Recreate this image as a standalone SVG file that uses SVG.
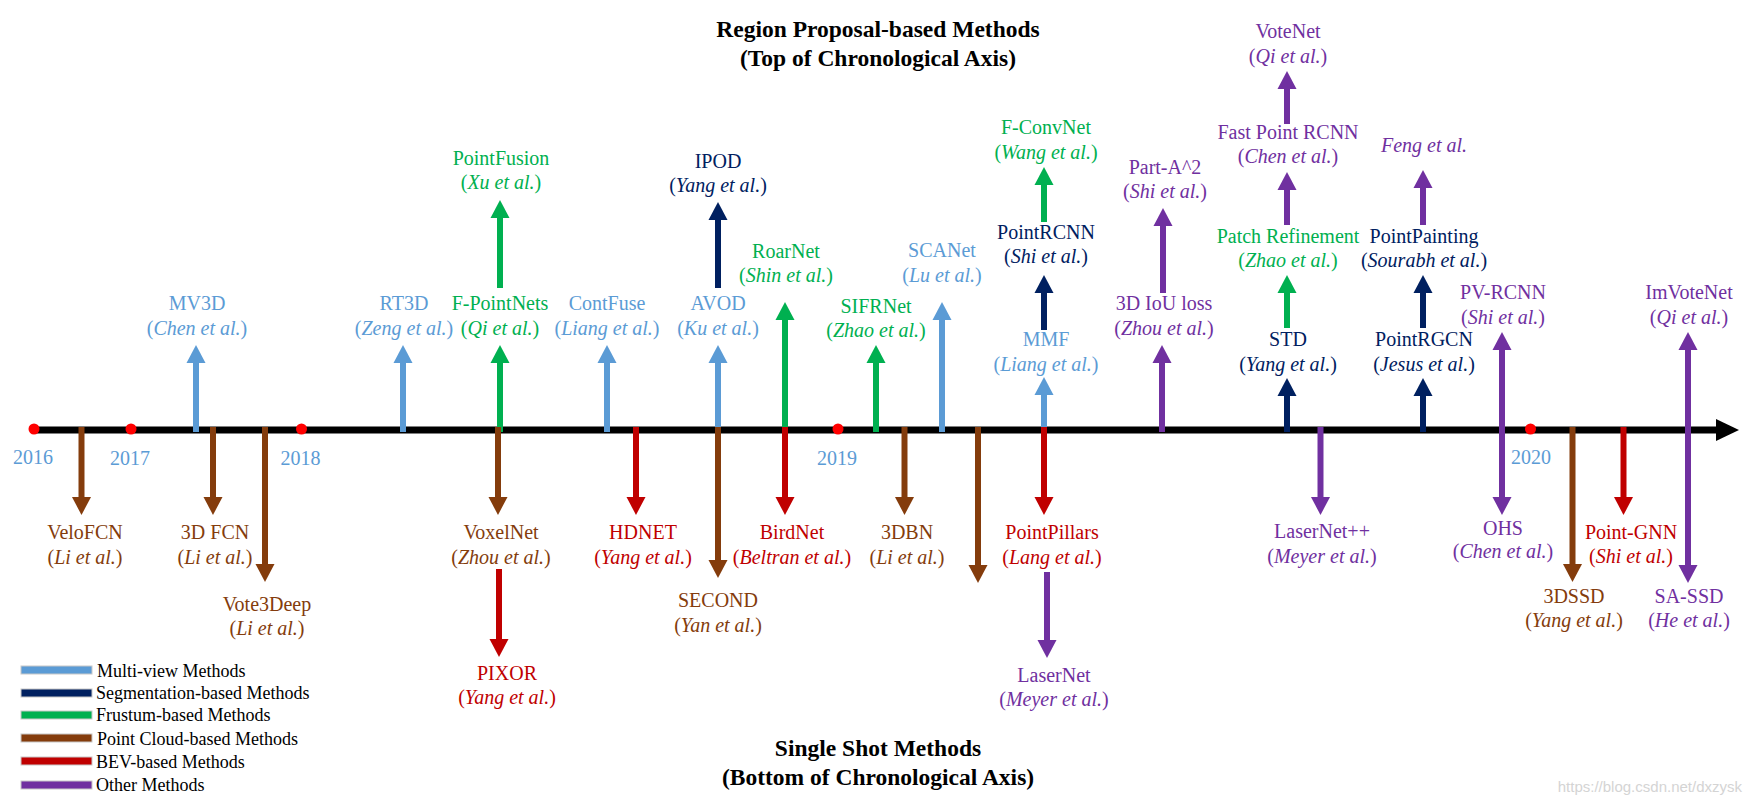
<svg xmlns="http://www.w3.org/2000/svg" width="1753" height="804" viewBox="0 0 1753 804">
<style>
text { font-family: "Liberation Serif", "Times New Roman", serif; }
.lbl { font-size: 20px; text-anchor: middle; }
.yr { font-size: 20px; text-anchor: middle; fill: #5B9BD5; }
.ttl { font-size: 23.5px; font-weight: bold; text-anchor: middle; fill: #000; }
.leg { font-size: 18px; fill: #000; }
.i { font-style: italic; }
.cb { fill: #5B9BD5; } .cn { fill: #002060; } .cg { fill: #00B050; }
.cbr { fill: #843C0C; } .cr { fill: #C00000; } .cp { fill: #7030A0; }
.a { stroke-width: 6; fill: none; }
.sb { stroke: #5B9BD5; } .sn { stroke: #002060; } .sg { stroke: #00B050; }
.sbr { stroke: #843C0C; } .sr { stroke: #C00000; } .sp { stroke: #7030A0; }
.ab { marker-end: url(#hb); } .an { marker-end: url(#hn); } .ag { marker-end: url(#hg); }
.abr { marker-end: url(#hbr); } .ar { marker-end: url(#hr); } .ap { marker-end: url(#hp); }
.dot { fill: #FF0000; }
.lg { stroke: #c8c8c8; stroke-width: 1; }
</style>
<defs>
<marker id="hb" markerUnits="userSpaceOnUse" markerWidth="18" markerHeight="19" refX="0" refY="9.5" orient="auto" overflow="visible"><path d="M0,0 L18,9.5 L0,19 Z" fill="#5B9BD5"/></marker>
<marker id="hn" markerUnits="userSpaceOnUse" markerWidth="18" markerHeight="19" refX="0" refY="9.5" orient="auto" overflow="visible"><path d="M0,0 L18,9.5 L0,19 Z" fill="#002060"/></marker>
<marker id="hg" markerUnits="userSpaceOnUse" markerWidth="18" markerHeight="19" refX="0" refY="9.5" orient="auto" overflow="visible"><path d="M0,0 L18,9.5 L0,19 Z" fill="#00B050"/></marker>
<marker id="hbr" markerUnits="userSpaceOnUse" markerWidth="18" markerHeight="19" refX="0" refY="9.5" orient="auto" overflow="visible"><path d="M0,0 L18,9.5 L0,19 Z" fill="#843C0C"/></marker>
<marker id="hr" markerUnits="userSpaceOnUse" markerWidth="18" markerHeight="19" refX="0" refY="9.5" orient="auto" overflow="visible"><path d="M0,0 L18,9.5 L0,19 Z" fill="#C00000"/></marker>
<marker id="hp" markerUnits="userSpaceOnUse" markerWidth="18" markerHeight="19" refX="0" refY="9.5" orient="auto" overflow="visible"><path d="M0,0 L18,9.5 L0,19 Z" fill="#7030A0"/></marker>
<marker id="hp2" markerUnits="userSpaceOnUse" markerWidth="18" markerHeight="19" refX="0" refY="9.5" orient="auto-start-reverse" overflow="visible"><path d="M0,0 L18,9.5 L0,19 Z" fill="#7030A0"/></marker>
<marker id="hk" markerUnits="userSpaceOnUse" markerWidth="23" markerHeight="22" refX="0" refY="11" orient="auto" overflow="visible"><path d="M0,0 L23,11 L0,22 Z" fill="#000"/></marker>
</defs>
<rect width="1753" height="804" fill="#fff"/>

<g id="titles">
<text class="ttl" x="878" y="37">Region Proposal-based Methods</text>
<text class="ttl" x="878" y="66">(Top of Chronological Axis)</text>
<text class="ttl" x="878" y="756">Single Shot Methods</text>
<text class="ttl" x="878" y="785">(Bottom of Chronological Axis)</text>
</g>

<g id="axis">
<line x1="34" y1="430" x2="1716" y2="430" stroke="#000" stroke-width="7" marker-end="url(#hk)"/>
</g>

<g id="connectors">
<!-- up arrows -->
<line class="a sb ab" x1="196" y1="432" x2="196" y2="363"/>
<line class="a sb ab" x1="403" y1="432" x2="403" y2="363"/>
<line class="a sg ag" x1="500" y1="432" x2="500" y2="363"/>
<line class="a sg ag" x1="500" y1="288" x2="500" y2="218"/>
<line class="a sb ab" x1="607" y1="432" x2="607" y2="363"/>
<line class="a sb ab" x1="718" y1="432" x2="718" y2="363"/>
<line class="a sn an" x1="718" y1="288" x2="718" y2="220"/>
<line class="a sg ag" x1="785" y1="432" x2="785" y2="320"/>
<line class="a sg ag" x1="876" y1="432" x2="876" y2="363"/>
<line class="a sb ab" x1="942" y1="432" x2="942" y2="320"/>
<line class="a sb ab" x1="1044" y1="432" x2="1044" y2="395"/>
<line class="a sn an" x1="1044" y1="330" x2="1044" y2="293"/>
<line class="a sg ag" x1="1044" y1="222" x2="1044" y2="185"/>
<line class="a sp ap" x1="1162" y1="432" x2="1162" y2="363"/>
<line class="a sp ap" x1="1163" y1="293" x2="1163" y2="226"/>
<line class="a sn an" x1="1287" y1="432" x2="1287" y2="396"/>
<line class="a sg ag" x1="1287" y1="328" x2="1287" y2="293"/>
<line class="a sp ap" x1="1287" y1="225" x2="1287" y2="190"/>
<line class="a sp ap" x1="1287" y1="124" x2="1287" y2="89"/>
<line class="a sn an" x1="1423" y1="432" x2="1423" y2="396"/>
<line class="a sn an" x1="1423" y1="328" x2="1423" y2="293"/>
<line class="a sp ap" x1="1423" y1="225" x2="1423" y2="188"/>
<!-- double-headed -->
<line class="a sp" x1="1502" y1="350" x2="1502" y2="497" marker-start="url(#hp2)" marker-end="url(#hp2)"/>
<line class="a sp" x1="1688" y1="350" x2="1688" y2="565" marker-start="url(#hp2)" marker-end="url(#hp2)"/>
<!-- down arrows -->
<line class="a sbr abr" x1="81.5" y1="427" x2="81.5" y2="497"/>
<line class="a sbr abr" x1="213" y1="427" x2="213" y2="497"/>
<line class="a sbr abr" x1="265" y1="427" x2="265" y2="564"/>
<line class="a sbr abr" x1="498" y1="427" x2="498" y2="497"/>
<line class="a sr ar" x1="499" y1="569" x2="499" y2="639"/>
<line class="a sr ar" x1="636" y1="427" x2="636" y2="497"/>
<line class="a sbr abr" x1="718" y1="427" x2="718" y2="560"/>
<line class="a sr ar" x1="785" y1="427" x2="785" y2="497"/>
<line class="a sbr abr" x1="904.5" y1="427" x2="904.5" y2="497"/>
<line class="a sbr abr" x1="978" y1="427" x2="978" y2="565"/>
<line class="a sr ar" x1="1044" y1="427" x2="1044" y2="497"/>
<line class="a sp ap" x1="1047" y1="572" x2="1047" y2="640"/>
<line class="a sp ap" x1="1320.5" y1="427" x2="1320.5" y2="497"/>
<line class="a sbr abr" x1="1572.5" y1="427" x2="1572.5" y2="564"/>
<line class="a sr ar" x1="1623.5" y1="427" x2="1623.5" y2="497"/>
</g>

<g id="years">
<circle class="dot" cx="34" cy="429" r="5.5"/>
<circle class="dot" cx="131" cy="429" r="5.5"/>
<circle class="dot" cx="301.5" cy="429" r="5.5"/>
<circle class="dot" cx="838" cy="429" r="5.5"/>
<circle class="dot" cx="1530.5" cy="429" r="5.5"/>
<text class="yr" x="33" y="464">2016</text>
<text class="yr" x="130" y="465">2017</text>
<text class="yr" x="300.5" y="465">2018</text>
<text class="yr" x="837" y="465">2019</text>
<text class="yr" x="1531" y="464">2020</text>
</g>

<!-- upper nodes -->
<g id="mv3d" class="cb"><text class="lbl" x="197" y="310">MV3D</text><text class="lbl" x="197" y="335">(<tspan class="i">Chen et al.</tspan>)</text></g>
<g id="rt3d" class="cb"><text class="lbl" x="404" y="310">RT3D</text><text class="lbl" x="404" y="335">(<tspan class="i">Zeng et al.</tspan>)</text></g>
<g id="fpointnets" class="cg"><text class="lbl" x="500" y="310">F-PointNets</text><text class="lbl" x="500" y="335">(<tspan class="i">Qi et al.</tspan>)</text></g>
<g id="pointfusion" class="cg"><text class="lbl" x="501" y="165">PointFusion</text><text class="lbl" x="501" y="189">(<tspan class="i">Xu et al.</tspan>)</text></g>
<g id="contfuse" class="cb"><text class="lbl" x="607" y="310">ContFuse</text><text class="lbl" x="607" y="335">(<tspan class="i">Liang et al.</tspan>)</text></g>
<g id="avod" class="cb"><text class="lbl" x="718" y="310">AVOD</text><text class="lbl" x="718" y="335">(<tspan class="i">Ku et al.</tspan>)</text></g>
<g id="ipod" class="cn"><text class="lbl" x="718" y="168">IPOD</text><text class="lbl" x="718" y="192">(<tspan class="i">Yang et al.</tspan>)</text></g>
<g id="roarnet" class="cg"><text class="lbl" x="786" y="258">RoarNet</text><text class="lbl" x="786" y="282">(<tspan class="i">Shin et al.</tspan>)</text></g>
<g id="sifrnet" class="cg"><text class="lbl" x="876" y="313">SIFRNet</text><text class="lbl" x="876" y="337">(<tspan class="i">Zhao et al.</tspan>)</text></g>
<g id="scanet" class="cb"><text class="lbl" x="942" y="257">SCANet</text><text class="lbl" x="942" y="282">(<tspan class="i">Lu et al.</tspan>)</text></g>
<g id="mmf" class="cb"><text class="lbl" x="1046" y="346">MMF</text><text class="lbl" x="1046" y="371">(<tspan class="i">Liang et al.</tspan>)</text></g>
<g id="pointrcnn" class="cn"><text class="lbl" x="1046" y="239">PointRCNN</text><text class="lbl" x="1046" y="263">(<tspan class="i">Shi et al.</tspan>)</text></g>
<g id="fconvnet" class="cg"><text class="lbl" x="1046" y="134">F-ConvNet</text><text class="lbl" x="1046" y="159">(<tspan class="i">Wang et al.</tspan>)</text></g>
<g id="iouloss" class="cp"><text class="lbl" x="1164" y="310">3D IoU loss</text><text class="lbl" x="1164" y="335">(<tspan class="i">Zhou et al.</tspan>)</text></g>
<g id="parta2" class="cp"><text class="lbl" x="1165" y="174">Part-A^2</text><text class="lbl" x="1165" y="198">(<tspan class="i">Shi et al.</tspan>)</text></g>
<g id="std" class="cn"><text class="lbl" x="1288" y="346">STD</text><text class="lbl" x="1288" y="371">(<tspan class="i">Yang et al.</tspan>)</text></g>
<g id="patchrefinement" class="cg"><text class="lbl" x="1288" y="243">Patch Refinement</text><text class="lbl" x="1288" y="267">(<tspan class="i">Zhao et al.</tspan>)</text></g>
<g id="fastpointrcnn" class="cp"><text class="lbl" x="1288" y="139">Fast Point RCNN</text><text class="lbl" x="1288" y="163">(<tspan class="i">Chen et al.</tspan>)</text></g>
<g id="votenet" class="cp"><text class="lbl" x="1288" y="38">VoteNet</text><text class="lbl" x="1288" y="63">(<tspan class="i">Qi et al.</tspan>)</text></g>
<g id="pointrgcn" class="cn"><text class="lbl" x="1424" y="346">PointRGCN</text><text class="lbl" x="1424" y="371">(<tspan class="i">Jesus et al.</tspan>)</text></g>
<g id="pointpainting" class="cn"><text class="lbl" x="1424" y="243">PointPainting</text><text class="lbl" x="1424" y="267">(<tspan class="i">Sourabh et al.</tspan>)</text></g>
<g id="feng" class="cp"><text class="lbl i" x="1424" y="152">Feng et al.</text></g>
<g id="pvrcnn" class="cp"><text class="lbl" x="1503" y="299">PV-RCNN</text><text class="lbl" x="1503" y="324">(<tspan class="i">Shi et al.</tspan>)</text></g>
<g id="imvotenet" class="cp"><text class="lbl" x="1689" y="299">ImVoteNet</text><text class="lbl" x="1689" y="324">(<tspan class="i">Qi et al.</tspan>)</text></g>

<!-- lower nodes -->
<g id="velofcn" class="cbr"><text class="lbl" x="85" y="539">VeloFCN</text><text class="lbl" x="85" y="564">(<tspan class="i">Li et al.</tspan>)</text></g>
<g id="fcn3d" class="cbr"><text class="lbl" x="215" y="539">3D FCN</text><text class="lbl" x="215" y="564">(<tspan class="i">Li et al.</tspan>)</text></g>
<g id="vote3deep" class="cbr"><text class="lbl" x="267" y="611">Vote3Deep</text><text class="lbl" x="267" y="635">(<tspan class="i">Li et al.</tspan>)</text></g>
<g id="voxelnet" class="cbr"><text class="lbl" x="501" y="539">VoxelNet</text><text class="lbl" x="501" y="564">(<tspan class="i">Zhou et al.</tspan>)</text></g>
<g id="pixor" class="cr"><text class="lbl" x="507" y="680">PIXOR</text><text class="lbl" x="507" y="704">(<tspan class="i">Yang et al.</tspan>)</text></g>
<g id="hdnet" class="cr"><text class="lbl" x="643" y="539">HDNET</text><text class="lbl" x="643" y="564">(<tspan class="i">Yang et al.</tspan>)</text></g>
<g id="second" class="cbr"><text class="lbl" x="718" y="607">SECOND</text><text class="lbl" x="718" y="632">(<tspan class="i">Yan et al.</tspan>)</text></g>
<g id="birdnet" class="cr"><text class="lbl" x="792" y="539">BirdNet</text><text class="lbl" x="792" y="564">(<tspan class="i">Beltran et al.</tspan>)</text></g>
<g id="dbn3" class="cbr"><text class="lbl" x="907" y="539">3DBN</text><text class="lbl" x="907" y="564">(<tspan class="i">Li et al.</tspan>)</text></g>
<g id="pointpillars" class="cr"><text class="lbl" x="1052" y="539">PointPillars</text><text class="lbl" x="1052" y="564">(<tspan class="i">Lang et al.</tspan>)</text></g>
<g id="lasernet" class="cp"><text class="lbl" x="1054" y="682">LaserNet</text><text class="lbl" x="1054" y="706">(<tspan class="i">Meyer et al.</tspan>)</text></g>
<g id="lasernetpp" class="cp"><text class="lbl" x="1322" y="538">LaserNet++</text><text class="lbl" x="1322" y="563">(<tspan class="i">Meyer et al.</tspan>)</text></g>
<g id="ohs" class="cp"><text class="lbl" x="1503" y="535">OHS</text><text class="lbl" x="1503" y="558">(<tspan class="i">Chen et al.</tspan>)</text></g>
<g id="ssd3d" class="cbr"><text class="lbl" x="1574" y="603">3DSSD</text><text class="lbl" x="1574" y="627">(<tspan class="i">Yang et al.</tspan>)</text></g>
<g id="pointgnn" class="cr"><text class="lbl" x="1631" y="539">Point-GNN</text><text class="lbl" x="1631" y="563">(<tspan class="i">Shi et al.</tspan>)</text></g>
<g id="sassd" class="cp"><text class="lbl" x="1689" y="603">SA-SSD</text><text class="lbl" x="1689" y="627">(<tspan class="i">He et al.</tspan>)</text></g>

<g id="legend">
<rect class="lg cb" x="21" y="666" width="71" height="8"/>
<rect class="lg cn" x="21" y="689" width="71" height="8"/>
<rect class="lg cg" x="21" y="711" width="71" height="8"/>
<rect class="lg cbr" x="21" y="734" width="71" height="8"/>
<rect class="lg cr" x="21" y="757" width="71" height="8"/>
<rect class="lg cp" x="21" y="781" width="71" height="8"/>
<text class="leg" x="97" y="677">Multi-view Methods</text>
<text class="leg" x="96" y="699">Segmentation-based Methods</text>
<text class="leg" x="96" y="721">Frustum-based Methods</text>
<text class="leg" x="97" y="745">Point Cloud-based Methods</text>
<text class="leg" x="96" y="768">BEV-based Methods</text>
<text class="leg" x="96" y="791">Other Methods</text>
</g>

<text x="1742" y="792" text-anchor="end" style="font-family: 'Liberation Sans', Arial, sans-serif; font-size: 15px; fill: #d4d4d4;">https://blog.csdn.net/dxzysk</text>
</svg>
